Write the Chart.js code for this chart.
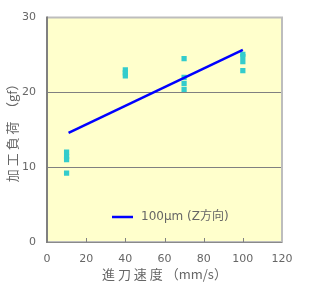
<!DOCTYPE html>
<html><head><meta charset="utf-8">
<script src="https://cdn.jsdelivr.net/npm/chart.js@4/dist/chart.umd.min.js"></script>
<style>html,body{margin:0;padding:0;background:#fff}#c{display:block}</style>
</head><body>
<canvas id="c" width="328" height="294"></canvas>
<script>
const xTicks = [0, 20, 40, 60, 80, 100, 120];
const yTicks = [0, 10, 20, 30];
const pointX = [10, 10, 10, 10, 40, 40, 40, 70, 70, 70, 70, 100, 100, 100, 100];
const pointY = [12.0, 11.4, 11.0, 9.2, 23.0, 22.6, 22.2, 24.5, 22.0, 21.2, 20.4, 25.1, 24.8, 24.1, 22.9];
const lineX = [11, 100];
const lineY = [14.6, 25.7];
const lineLabel = '100μm (Z方向)';
const xTitle = '進 刀 速 度 （mm/s）';
const yTitle = '加 工 負 荷　（gf）';

const font = "'DejaVu Sans', 'Noto Sans CJK JP', sans-serif";
const cjk = "'Noto Sans CJK JP', sans-serif";

const framePlugin = {
  id: 'frame',
  beforeDraw(chart) {
    const {ctx, chartArea: a} = chart;
    ctx.save();
    ctx.fillStyle = '#FFFFCC';
    ctx.fillRect(a.left, a.top, a.right - a.left, a.bottom - a.top);
    ctx.restore();
  },
  afterDatasetsDraw(chart) {
    const {ctx, chartArea: a} = chart;
    ctx.save();
    ctx.strokeStyle = '#BDBDBD';
    ctx.lineWidth = 2;
    ctx.beginPath();
    ctx.moveTo(a.left, a.top);
    ctx.lineTo(a.right, a.top);
    ctx.lineTo(a.right, a.bottom);
    ctx.lineTo(a.left, a.bottom);
    ctx.stroke();
    ctx.strokeStyle = '#8A8A8A';
    ctx.lineWidth = 1;
    ctx.beginPath();
    ctx.moveTo(a.left, a.bottom + 0.5);
    ctx.lineTo(a.right, a.bottom + 0.5);
    ctx.stroke();
    ctx.strokeStyle = '#808080';
    ctx.lineWidth = 2;
    ctx.beginPath();
    ctx.moveTo(a.left, a.top - 1);
    ctx.lineTo(a.left, a.bottom + 1);
    ctx.stroke();
    const xs = chart.scales.x;
    ctx.strokeStyle = '#808080';
    ctx.lineWidth = 1;
    xTicks.forEach(v => {
      if (v === 0 || v === 120) return;
      const px = Math.round(xs.getPixelForValue(v)) + 0.5;
      ctx.beginPath();
      ctx.moveTo(px, a.bottom);
      ctx.lineTo(px, a.bottom - 4);
      ctx.stroke();
    });
    const ly = 217;
    ctx.strokeStyle = '#0000FF';
    ctx.lineWidth = 2.5;
    ctx.beginPath();
    ctx.moveTo(112, ly);
    ctx.lineTo(133, ly);
    ctx.stroke();
    ctx.fillStyle = '#666666';
    ctx.font = "12px " + font;
    ctx.textBaseline = 'middle';
    ctx.textAlign = 'left';
    ctx.fillText(lineLabel, 141, ly);
    ctx.restore();
  }
};

new Chart(document.getElementById('c'), {
  type: 'scatter',
  data: {
    datasets: [
      {
        type: 'line',
        label: lineLabel,
        data: lineX.map((x, i) => ({x, y: lineY[i]})),
        borderColor: '#0000FF',
        borderWidth: 2.5,
        pointRadius: 0,
        fill: false,
        order: 1
      },
      {
        label: 'points',
        data: pointX.map((x, i) => ({x, y: pointY[i]})),
        pointStyle: 'rect',
        pointRadius: 3.7,
        pointBorderWidth: 0,
        backgroundColor: '#33CCCC',
        borderColor: '#33CCCC',
        order: 2
      }
    ]
  },
  options: {
    responsive: false,
    animation: false,
    layout: {padding: {left: 0, right: 46, top: 12, bottom: 8}},
    plugins: {legend: {display: false}, tooltip: {enabled: false}},
    scales: {
      x: {
        type: 'linear', min: 0, max: 120,
        afterBuildTicks: s => { s.ticks = xTicks.map(v => ({value: v})); },
        afterFit: s => { s.height = 44; },
        grid: {display: false, drawTicks: false},
        border: {display: false},
        ticks: {color: '#666666', font: {size: 11, family: font}, padding: 11, maxRotation: 0},
        title: {display: true, text: xTitle, color: '#666666', font: {size: 13, family: cjk}, padding: {top: 0}}
      },
      y: {
        type: 'linear', min: 0, max: 30,
        afterBuildTicks: s => { s.ticks = yTicks.map(v => ({value: v})); },
        afterFit: s => { s.width = 47; },
        grid: {
          drawTicks: false,
          color: ctx => (ctx.tick && (ctx.tick.value === 0 || ctx.tick.value === 30)) ? 'rgba(0,0,0,0)' : '#808080',
          lineWidth: 1
        },
        border: {display: false},
        ticks: {color: '#666666', font: {size: 11, family: font}, padding: 11},
        title: {display: true, text: yTitle, color: '#666666', font: {size: 13, family: cjk}, padding: {bottom: 0}}
      }
    }
  },
  plugins: [framePlugin]
});
</script>
</body></html>
